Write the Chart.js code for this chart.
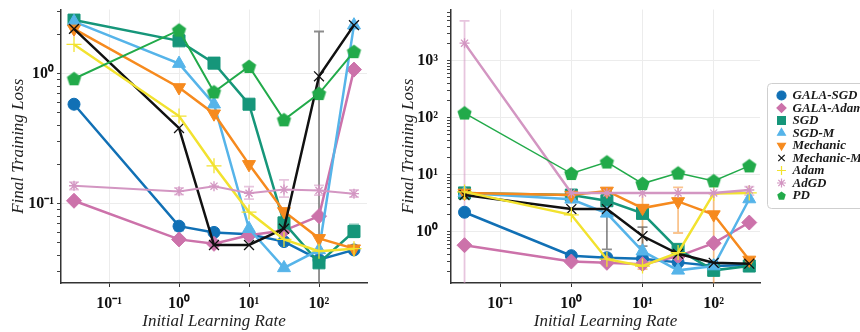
<!DOCTYPE html>
<html>
<head>
<meta charset="utf-8">
<script src="https://cdn.jsdelivr.net/npm/chart.js@4.4.1/dist/chart.umd.min.js"></script>
<style>
  html, body { margin: 0; padding: 0; background: #fff; overflow: hidden; }
  #c1 { position: absolute; left: 0; top: 0; }
  #c2 { position: absolute; left: 380px; top: 0; }
</style>
</head>
<body>
<canvas id="c1" width="380" height="332"></canvas>
<canvas id="c2" width="480" height="332"></canvas>
<script>
// initial learning rates (x)
const lrs = [0.0316, 1, 3.16, 10, 31.6, 100, 316];
const names = ['GALA-SGD', 'GALA-Adam', 'SGD', 'SGD-M', 'Mechanic', 'Mechanic-M', 'Adam', 'AdGD', 'PD'];
const colors = ['#1170b5', '#cc72aa', '#16967a', '#56b4e9', '#f68a1e', '#111111', '#f2e22f', '#d396c2', '#22aa4a'];

// left panel
const galaSgdL  = [0.58, 0.067, 0.060, 0.058, 0.051, 0.037, 0.044];
const galaAdamL = [0.105, 0.053, 0.049, 0.057, 0.062, 0.080, 1.07];
const sgdL      = [2.57, 1.78, 1.2, 0.58, 0.071, 0.035, 0.061];
const sgdML     = [2.5, 1.19, 0.58, 0.064, 0.032, 0.044, 2.35];
const mechL     = [2.2, 0.78, 0.49, 0.20, 0.087, 0.054, 0.045];
const mechML    = [2.2, 0.38, 0.048, 0.048, 0.064, 0.95, 2.35];
const adamL     = [1.67, 0.47, 0.195, 0.086, 0.053, 0.043, 0.045];
const adgdL     = [0.137, 0.124, 0.136, 0.12, 0.128, 0.126, 0.119];
const pdL       = [0.91, 2.15, 0.72, 1.13, 0.44, 0.70, 1.47];

// right panel
const galaSgdR  = [2.2, 0.38, 0.35, 0.335, 0.29, 0.25, 0.26];
const galaAdamR = [0.58, 0.30, 0.285, 0.27, 0.37, 0.63, 1.45];
const sgdR      = [4.8, 4.4, 3.5, 2.1, 0.49, 0.21, 0.25];
const sgdMR     = [4.8, 3.7, 2.1, 0.455, 0.21, 0.25, 3.75];
const mechR     = [4.8, 4.4, 5.2, 2.6, 3.4, 2.0, 0.32];
const mechMR    = [4.4, 2.5, 2.5, 0.84, 0.41, 0.285, 0.275];
const adamR     = [5.0, 1.98, 0.33, 0.25, 0.43, 4.7, 4.8];
const adgdR     = [2040, 4.8, 4.8, 4.8, 4.8, 4.8, 5.4];
const pdR       = [121, 10.5, 16.7, 7.0, 10.7, 7.8, 14.3];

// error bars [low, high]
const errGalaSgdL = [null, [0.062, 0.071], null, null, null, null, null];
const errSgdL     = [null, null, null, null, [0.066, 0.076], null, [0.055, 0.069]];
const errMechML   = [null, null, null, null, null, [0.005, 2.1], null];
const errAdgdL    = [[0.128, 0.146], [0.117, 0.132], null, [0.108, 0.135], [0.112, 0.152], [0.116, 0.138], [0.112, 0.127]];
const errMechR    = [null, null, [4.5, 5.8], [0.22, 4.8], [0.95, 6.0], [0.01, 4.6], null];
const errMechMR   = [null, null, [0.49, 5.0], [0.56, 1.2], null, null, null];
const errAdgdR    = [[0.01, 5000], null, null, null, null, null, [4.4, 6.2]];

function pentagon(r, color) {
    const c = document.createElement('canvas');
    const s = Math.ceil(2 * r + 2);
    c.width = s; c.height = s;
    const g = c.getContext('2d');
    g.fillStyle = color;
    g.beginPath();
    for (let k = 0; k < 5; k++) {
        const a = -Math.PI / 2 + k * 2 * Math.PI / 5;
        g.lineTo(s / 2 + r * Math.cos(a), s / 2 + r * Math.sin(a) + 0.5);
    }
    g.closePath();
    g.fill();
    return c;
}

const styles = ['circle', 'rectRot', 'rect', 'triangle', 'triangle', 'crossRot', 'cross', 'star', pentagon(7.5, colors[8])];
const legendStyles = ['circle', 'rectRot', 'rect', 'triangle', 'triangle', 'crossRot', 'cross', 'star', pentagon(4.5, colors[8])];
const radii = [6, 7.5, 8.5, 7.5, 7.5, 7, 7.5, 5, 7];
const rotations = [0, 0, 0, 0, 180, 0, 0, 0, 0];
const errColors = ['rgba(17,112,181,0.5)', 'rgba(204,114,170,0.5)', 'rgba(22,150,122,0.5)', 'rgba(86,180,233,0.5)',
                   'rgba(246,138,30,0.5)', 'rgba(80,80,80,0.65)', 'rgba(242,226,47,0.6)', 'rgba(211,150,194,0.55)', 'rgba(34,170,74,0.5)'];

const sup = { '-': '\u207b', '0': '\u2070', '1': '\u00b9', '2': '\u00b2', '3': '\u00b3' };
function fmt(v) {
    const l = Math.log10(v);
    const e = Math.round(l);
    if (Math.abs(l - e) > 1e-6) return '';
    return '10' + String(e).split('').map(c => sup[c]).join('');
}
function isMajor(v) {
    const l = Math.log10(v);
    return Math.abs(l - Math.round(l)) < 1e-6;
}

function makeDatasets(series, errs, widths) {
    return series.map((vals, i) => ({
        label: names[i],
        data: lrs.map((x, j) => ({ x: x, y: vals[j] })),
        showLine: true,
        borderColor: colors[i],
        backgroundColor: colors[i],
        borderWidth: widths[i],
        pointStyle: styles[i],
        pointRadius: radii[i],
        pointRotation: rotations[i],
        pointBorderWidth: (i === 5 || i === 6 || i === 7) ? 1.3 : 1,
        tension: 0,
        order: names.length - i,
        errorBars: errs[i],
        errColor: errColors[i]
    }));
}

const errorBarPlugin = {
    id: 'errbars',
    beforeDatasetsDraw(chart) {
        const { ctx, chartArea } = chart;
        const xs = chart.scales.x, ys = chart.scales.y;
        ctx.save();
        ctx.beginPath();
        ctx.rect(chartArea.left, chartArea.top, chartArea.width, chartArea.height);
        ctx.clip();
        chart.data.datasets.forEach(ds => {
            if (!ds.errorBars) return;
            ds.errorBars.forEach((e, j) => {
                if (!e) return;
                const px = xs.getPixelForValue(lrs[j]);
                const y1 = ys.getPixelForValue(e[0]);
                const y2 = ys.getPixelForValue(e[1]);
                ctx.strokeStyle = ds.errColor;
                ctx.lineWidth = 1.8;
                ctx.beginPath();
                ctx.moveTo(px, y1); ctx.lineTo(px, y2);
                ctx.moveTo(px - 5, y1); ctx.lineTo(px + 5, y1);
                ctx.moveTo(px - 5, y2); ctx.lineTo(px + 5, y2);
                ctx.stroke();
            });
        });
        ctx.restore();
    }
};

const legendPlugin = {
    id: 'boxLegend',
    afterDraw(chart) {
        const ctx = chart.ctx;
        const bx = 387.5, by = 83.5, bw = 110, bh = 125;
        ctx.save();
        ctx.fillStyle = 'rgba(255,255,255,0.92)';
        ctx.strokeStyle = '#cfcfcf';
        ctx.lineWidth = 1;
        ctx.beginPath();
        ctx.roundRect(bx, by, bw, bh, 4);
        ctx.fill();
        ctx.stroke();
        ctx.font = 'italic bold 13px "Liberation Serif"';
        ctx.textBaseline = 'middle';
        names.forEach((n, i) => {
            const yy = by + 12 + i * 12.5;
            ctx.fillStyle = colors[i];
            ctx.strokeStyle = colors[i];
            ctx.lineWidth = 1.2;
            Chart.helpers.drawPoint(ctx, {
                pointStyle: legendStyles[i], radius: i === 2 ? 5.5 : 4.5,
                rotation: rotations[i], borderWidth: 1.2
            }, bx + 14, yy);
            ctx.fillStyle = '#1a1a1a';
            ctx.fillText(n, bx + 25, yy + 0.5);
        });
        ctx.restore();
    }
};

function scaleOpts(xr, yr, yWidth, yPad, yTitlePad) {
    return {
        x: {
            type: 'logarithmic',
            min: xr[0], max: xr[1],
            afterBuildTicks: s => { s.ticks = [0.1, 1, 10, 100].map(v => ({ value: v })); },
            afterFit: s => { s.height = 49; s.paddingLeft = 0; s.paddingRight = 0; },
            border: { color: '#333', width: 1.5 },
            grid: { color: '#ececec', tickColor: '#333', tickLength: 4 },
            ticks: {
                callback: v => fmt(v),
                color: '#111', padding: 7, maxRotation: 0, autoSkip: false,
                font: { family: '"Liberation Serif"', size: 16, weight: 'bold' }
            },
            title: {
                display: true, text: 'Initial Learning Rate', color: '#222',
                padding: { top: 0, bottom: 0 },
                font: { family: '"Liberation Serif"', size: 17, style: 'italic' }
            }
        },
        y: {
            type: 'logarithmic',
            min: yr[0], max: yr[1],
            afterBuildTicks: s => {
                const t = [];
                for (let e = -3; e <= 4; e++) {
                    for (let k = 1; k <= 9; k++) {
                        const v = k * Math.pow(10, e);
                        if (v >= s.min && v <= s.max) t.push({ value: v });
                    }
                }
                s.ticks = t;
            },
            afterFit: s => { s.width = yWidth; s.paddingTop = 0; s.paddingBottom = 0; },
            border: { color: '#333', width: 1.5 },
            grid: {
                color: c => (c.tick && isMajor(c.tick.value)) ? '#ececec' : 'rgba(0,0,0,0)',
                tickColor: '#444', tickLength: 4
            },
            ticks: {
                callback: v => fmt(v),
                color: '#111', padding: yPad, autoSkip: false,
                font: { family: '"Liberation Serif"', size: 16, weight: 'bold' }
            },
            title: {
                display: true, text: 'Final Training Loss', color: '#222',
                padding: { top: yTitlePad, bottom: 0 },
                font: { family: '"Liberation Serif"', size: 17, style: 'italic' }
            }
        }
    };
}

const commonPlugins = {
    legend: { display: false },
    tooltip: { enabled: false }
};

new Chart(document.getElementById('c1').getContext('2d'), {
    type: 'scatter',
    data: {
        datasets: makeDatasets(
            [galaSgdL, galaAdamL, sgdL, sgdML, mechL, mechML, adamL, adgdL, pdL],
            [errGalaSgdL, null, errSgdL, null, null, errMechML, null, errAdgdL, null],
            [2.5, 2.5, 2.5, 2.5, 2.5, 2.5, 2.5, 2, 2]
        )
    },
    options: {
        responsive: false,
        animation: false,
        layout: { padding: { top: 7, right: 13, bottom: 0, left: 0 } },
        scales: scaleOpts([0.0206, 485], [0.0245, 3.1], 61, 3, 8),
        plugins: commonPlugins
    },
    plugins: [errorBarPlugin]
});

new Chart(document.getElementById('c2').getContext('2d'), {
    type: 'scatter',
    data: {
        datasets: makeDatasets(
            [galaSgdR, galaAdamR, sgdR, sgdMR, mechR, mechMR, adamR, adgdR, pdR],
            [null, null, null, null, errMechR, errMechMR, null, errAdgdR, null],
            [2.5, 2.5, 2.5, 2.5, 2.5, 2.5, 2.5, 2.5, 1.5]
        )
    },
    options: {
        responsive: false,
        animation: false,
        layout: { padding: { top: 7, right: 100, bottom: 0, left: 0 } },
        scales: scaleOpts([0.0204, 447], [0.126, 7940], 71, 9, 18),
        plugins: commonPlugins
    },
    plugins: [errorBarPlugin, legendPlugin]
});
</script>
</body>
</html>
